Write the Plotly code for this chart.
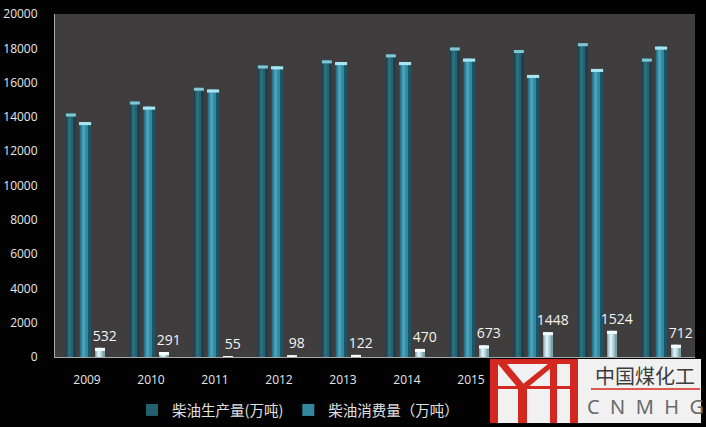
import plotly.graph_objects as go

years = ['2009', '2010', '2011', '2012', '2013', '2014', '2015', '2016', '2017', '2018']
visible_year_labels = ['2009', '2010', '2011', '2012', '2013', '2014', '2015']
production = [14200, 14900, 15700, 17000, 17300, 17650, 18050, 17900, 18300, 17400]
consumption = [13700, 14600, 15600, 16950, 17200, 17200, 17400, 16450, 16800, 18100]
exports = [532, 291, 55, 98, 122, 470, 673, 1448, 1524, 712]

names = ['柴油生产量(万吨)', '柴油消费量（万吨）', '柴油出口量（万吨）']

W, H = 706, 427
L, R, T, B = 55, 11, 14, 70
PW, PH = W - L - R, H - T - B

fig = go.Figure()


def layered(values, offset, width, edge, mid, light, cap, name, show):
    fig.add_trace(go.Bar(x=years, y=values, offset=offset, width=width,
                         marker=dict(color=edge, line=dict(width=0)),
                         name=name, legendgroup=name, showlegend=False,
                         hoverinfo='skip'))
    fig.add_trace(go.Bar(x=years, y=values, offset=offset + 0.12 * width, width=0.62 * width,
                         marker=dict(color=mid, line=dict(width=0)),
                         name=name, legendgroup=name, showlegend=show,
                         hoverinfo='skip'))
    fig.add_trace(go.Bar(x=years, y=values, offset=offset + 0.28 * width, width=0.22 * width,
                         marker=dict(color=light, line=dict(width=0)),
                         name=name, legendgroup=name, showlegend=False,
                         hoverinfo='skip'))
    capsz = 180
    fig.add_trace(go.Bar(x=years, y=[capsz] * len(values), base=[v - capsz for v in values],
                         offset=offset, width=width,
                         marker=dict(color=cap, line=dict(width=0)),
                         name=name, legendgroup=name, showlegend=False,
                         hoverinfo='skip'))


layered(production, -0.33, 0.156, '#173f4c', '#25606f', '#2e7080', '#7fc6d6', names[0], True)
layered(consumption, -0.125, 0.19, '#1d5565', '#3388a0', '#46a5bd', '#a9e6f2', names[1], True)
layered(exports, 0.125, 0.156, '#7fa4ae', '#b7d5dc', '#dff0f3', '#f2fbfd', names[2], False)

# value labels of the export series
fig.add_trace(go.Bar(x=years, y=exports, offset=0.2, width=0.156,
                     marker=dict(color='rgba(0,0,0,0)', line=dict(width=0)),
                     text=[str(v) for v in exports], textposition='outside',
                     textfont=dict(color='#f4f4f4', size=14, family='Open Sans, DejaVu Sans'),
                     cliponaxis=False, showlegend=False, hoverinfo='skip', name=names[2]))


def px(x):
    return (x - L) / PW


def py(y):
    return (H - B - y) / PH


shapes = []
shapes.append(dict(type='rect', xref='paper', yref='paper', layer='above',
                   x0=px(490), x1=px(701), y0=py(423), y1=py(359),
                   fillcolor='#f1f1f1', line=dict(width=0)))
red = '#d3281f'


def rect(x0, y0, x1, y1):
    shapes.append(dict(type='rect', xref='paper', yref='paper', layer='above',
                       x0=px(x0), x1=px(x1), y0=py(y1), y1=py(y0),
                       fillcolor=red, line=dict(width=0)))


def poly(pts):
    d = 'M ' + ' L '.join(f'{px(a):.5f},{py(b):.5f}' for a, b in pts) + ' Z'
    shapes.append(dict(type='path', xref='paper', yref='paper', layer='above',
                       path=d, fillcolor=red, line=dict(width=0)))


rect(490, 359, 578, 364)
rect(490, 359, 498, 423)
poly([(498, 364), (507, 364), (527, 388), (518, 388)])
poly([(548, 364), (556, 364), (527, 388), (518, 388)])
rect(518, 386, 527, 423)
rect(550, 359, 557, 423)
rect(570, 359, 578, 423)
rect(498, 386, 570, 389)
shapes.append(dict(type='line', xref='paper', yref='paper', layer='above',
                   x0=px(591), x1=px(700), y0=py(389), y1=py(389),
                   line=dict(color=red, width=1.5)))

annotations = [
    dict(text='中国煤化工', xref='paper', yref='paper', x=px(645), y=py(375),
         xanchor='center', yanchor='middle', showarrow=False,
         font=dict(family='Noto Sans CJK SC', size=20, color='#3c3c3c')),
    dict(text='C&nbsp;&nbsp;N&nbsp;&nbsp;M&nbsp;&nbsp;H&nbsp;&nbsp;G', xref='paper', yref='paper',
         x=px(645), y=py(406), xanchor='center', yanchor='middle', showarrow=False,
         font=dict(family='Noto Sans, DejaVu Sans', size=20, color='#6a6a6a')),
]

fig.update_layout(
    width=W, height=H,
    margin=dict(l=L, r=R, t=T, b=B, pad=0, autoexpand=False),
    paper_bgcolor='#020202',
    plot_bgcolor='#403d3e',
    barmode='overlay',
    font=dict(family='Noto Sans CJK SC, Open Sans, DejaVu Sans', color='#e6e6e6'),
    showlegend=True,
    legend=dict(orientation='h', x=px(132), y=py(410), xanchor='left', yanchor='middle',
                font=dict(size=14.5, color='#e0e0e0', family='Noto Sans CJK SC'),
                bgcolor='rgba(0,0,0,0)', itemwidth=30),
    shapes=shapes,
    annotations=annotations,
    xaxis=dict(type='category', range=[-0.5, 9.5], showgrid=False, showline=True,
               linecolor='#a8a8a8', linewidth=1, ticks='', ticklabelstandoff=12,
               tickvals=visible_year_labels, ticktext=visible_year_labels,
               tickfont=dict(size=12, color='#e8e8e8', family='Open Sans, DejaVu Sans'),
               fixedrange=True, automargin=False),
    yaxis=dict(range=[0, 20000], dtick=2000, tickformat='d', showgrid=False, showline=True,
               linecolor='#a8a8a8', linewidth=1, ticks='', zeroline=False,
               ticklabelstandoff=14,
               tickfont=dict(size=12, color='#e8e8e8', family='Open Sans, DejaVu Sans'),
               fixedrange=True, automargin=False),
)
fig.update_traces(constraintext='none', selector=dict(type='bar'))

fig.write_html('out.html', config={'displayModeBar': False},
               post_script="document.body.style.margin='0';")
